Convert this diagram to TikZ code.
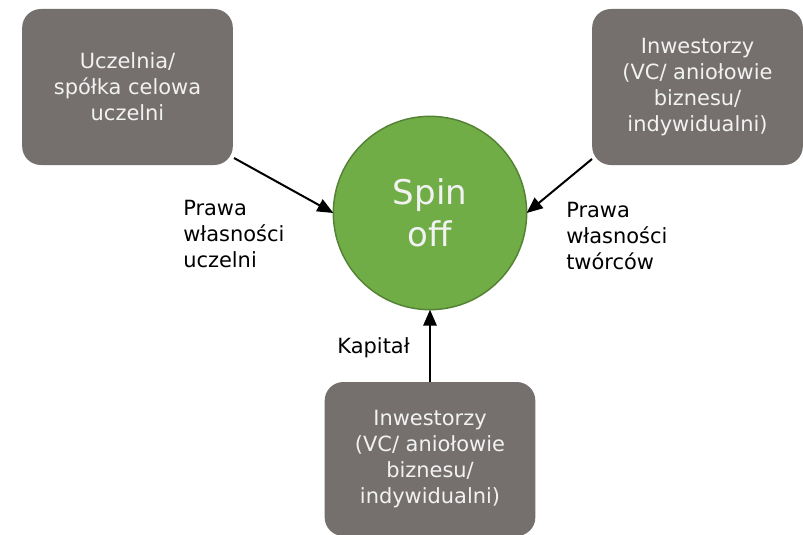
\documentclass[tikz,border=0pt]{standalone}
\usepackage{fontspec}
\setmainfont{DejaVu Sans}
\usetikzlibrary{arrows.meta}
\definecolor{boxgray}{RGB}{117,112,110}
\definecolor{boxtext}{RGB}{242,242,242}
\definecolor{spingreen}{RGB}{112,173,71}
\definecolor{spinborder}{RGB}{84,130,53}
\tikzset{
  actor/.style={fill=boxgray, rounded corners=14pt, minimum width=158pt, minimum height=117pt,
    inner sep=0pt, outer sep=0pt, align=center, text=boxtext,
    font=\fontsize{15.7}{19.5}\selectfont},
  spinnode/.style={circle, fill=spingreen, draw=spinborder, line width=1.1pt,
    minimum size=145pt, inner sep=0pt, outer sep=0pt, align=center, text=boxtext,
    font=\fontsize{25.5}{31.5}\selectfont},
  lbl/.style={align=left, inner sep=0pt, text=black, font=\fontsize{15.7}{19.5}\selectfont},
  arr/.style={-{Triangle[length=12pt,width=10pt]}, line width=1.5pt, black}
}
\begin{document}
\begin{tikzpicture}[x=0.75pt,y=-0.75pt]
\useasboundingbox (0,0) rectangle (803,535);
\node[actor] (tl) at (127.5,87) {Uczelnia/\\spółka celowa\\uczelni};
\node[actor] (tr) at (697.5,87) {Inwestorzy\\(VC/ aniołowie\\biznesu/\\indywidualni)};
\node[actor, minimum height=115.5pt] (bot) at (430,459) {Inwestorzy\\(VC/ aniołowie\\biznesu/\\indywidualni)};
\node[spinnode] (spin) at (430,213) {Spin\\off};
\node[lbl, anchor=west] (l1) at (183,234) {Prawa\\własności\\uczelni};
\node[lbl, anchor=west] (l2) at (566,236) {Prawa\\własności\\twórców};
\node[lbl, anchor=east] (l3) at (410,348) {Kapitał};
\coordinate (s1) at (234,158);
\coordinate (s2) at (592,159);
\draw[arr] (s1) -- (spin.west);
\draw[arr] (s2) -- (spin.east);
\draw[arr] (bot.north) -- (spin.south);
\end{tikzpicture}
\end{document}
